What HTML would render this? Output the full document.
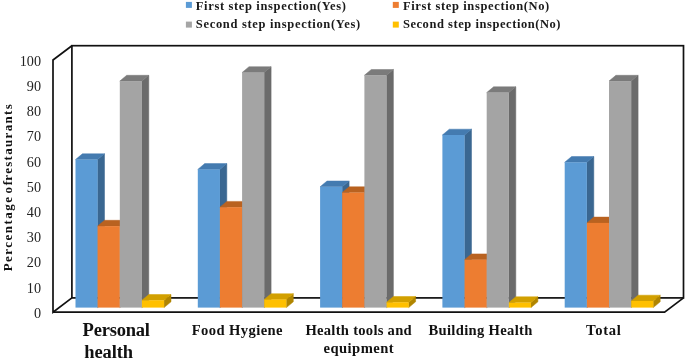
<!DOCTYPE html>
<html><head><meta charset="utf-8"><title>chart</title>
<style>html,body{margin:0;padding:0;background:#fff;overflow:hidden}body{width:685px;height:358px}</style>
</head><body>
<svg width="685" height="358" viewBox="0 0 685 358" style="display:block;filter:blur(0.35px)">
<rect width="100%" height="100%" fill="#fff"/>
<g fill="none" stroke="#111" stroke-width="1.7" stroke-linejoin="miter">
<rect x="71.9" y="45.7" width="611.6" height="252.2"/>
<path d="M71.9 45.7L53.0 60.0L53.0 312.2L71.9 297.9"/>
<path d="M53.0 312.2L664.6 312.2L683.5 297.9"/>
</g>
<path d="M97.6 159.6L104.5 153.8L104.5 301.8L97.6 307.6Z" fill="#3A6791" stroke="#3A6791" stroke-width="0.5"/>
<path d="M75.5 159.6L82.4 153.8L104.5 153.8L97.6 159.6Z" fill="#447BB0" stroke="#447BB0" stroke-width="0.5"/>
<rect x="75.5" y="159.6" width="22.15" height="148.0" fill="#5B9BD5"/>
<path d="M119.8 226.1L126.7 220.3L126.7 301.8L119.8 307.6Z" fill="#A85620" stroke="#A85620" stroke-width="0.5"/>
<path d="M97.6 226.1L104.5 220.3L126.7 220.3L119.8 226.1Z" fill="#B96220" stroke="#B96220" stroke-width="0.5"/>
<rect x="97.6" y="226.1" width="22.15" height="81.5" fill="#ED7D31"/>
<path d="M141.9 81.1L148.8 75.3L148.8 301.8L141.9 307.6Z" fill="#6B6B6B" stroke="#6B6B6B" stroke-width="0.5"/>
<path d="M119.8 81.1L126.7 75.3L148.8 75.3L141.9 81.1Z" fill="#7B7B7B" stroke="#7B7B7B" stroke-width="0.5"/>
<rect x="119.8" y="81.1" width="22.15" height="226.5" fill="#A4A4A4"/>
<path d="M164.1 300.3L171.0 294.5L171.0 301.8L164.1 307.6Z" fill="#B08500" stroke="#B08500" stroke-width="0.5"/>
<path d="M141.9 300.3L148.8 294.5L171.0 294.5L164.1 300.3Z" fill="#D2A000" stroke="#D2A000" stroke-width="0.5"/>
<rect x="141.9" y="300.3" width="22.15" height="7.3" fill="#FFC000"/>
<path d="M219.9 169.4L226.8 163.6L226.8 301.8L219.9 307.6Z" fill="#3A6791" stroke="#3A6791" stroke-width="0.5"/>
<path d="M197.8 169.4L204.7 163.6L226.8 163.6L219.9 169.4Z" fill="#447BB0" stroke="#447BB0" stroke-width="0.5"/>
<rect x="197.8" y="169.4" width="22.15" height="138.2" fill="#5B9BD5"/>
<path d="M242.1 207.2L249.0 201.4L249.0 301.8L242.1 307.6Z" fill="#A85620" stroke="#A85620" stroke-width="0.5"/>
<path d="M219.9 207.2L226.8 201.4L249.0 201.4L242.1 207.2Z" fill="#B96220" stroke="#B96220" stroke-width="0.5"/>
<rect x="219.9" y="207.2" width="22.15" height="100.4" fill="#ED7D31"/>
<path d="M264.2 72.5L271.1 66.7L271.1 301.8L264.2 307.6Z" fill="#6B6B6B" stroke="#6B6B6B" stroke-width="0.5"/>
<path d="M242.1 72.5L249.0 66.7L271.1 66.7L264.2 72.5Z" fill="#7B7B7B" stroke="#7B7B7B" stroke-width="0.5"/>
<rect x="242.1" y="72.5" width="22.15" height="235.1" fill="#A4A4A4"/>
<path d="M286.4 299.5L293.3 293.7L293.3 301.8L286.4 307.6Z" fill="#B08500" stroke="#B08500" stroke-width="0.5"/>
<path d="M264.2 299.5L271.1 293.7L293.3 293.7L286.4 299.5Z" fill="#D2A000" stroke="#D2A000" stroke-width="0.5"/>
<rect x="264.2" y="299.5" width="22.15" height="8.1" fill="#FFC000"/>
<path d="M342.2 186.8L349.1 181.0L349.1 301.8L342.2 307.6Z" fill="#3A6791" stroke="#3A6791" stroke-width="0.5"/>
<path d="M320.1 186.8L327.0 181.0L349.1 181.0L342.2 186.8Z" fill="#447BB0" stroke="#447BB0" stroke-width="0.5"/>
<rect x="320.1" y="186.8" width="22.15" height="120.8" fill="#5B9BD5"/>
<path d="M364.4 192.6L371.3 186.8L371.3 301.8L364.4 307.6Z" fill="#A85620" stroke="#A85620" stroke-width="0.5"/>
<path d="M342.2 192.6L349.1 186.8L371.3 186.8L364.4 192.6Z" fill="#B96220" stroke="#B96220" stroke-width="0.5"/>
<rect x="342.2" y="192.6" width="22.15" height="115.0" fill="#ED7D31"/>
<path d="M386.6 75.3L393.4 69.5L393.4 301.8L386.6 307.6Z" fill="#6B6B6B" stroke="#6B6B6B" stroke-width="0.5"/>
<path d="M364.4 75.3L371.3 69.5L393.4 69.5L386.6 75.3Z" fill="#7B7B7B" stroke="#7B7B7B" stroke-width="0.5"/>
<rect x="364.4" y="75.3" width="22.15" height="232.3" fill="#A4A4A4"/>
<path d="M408.7 302.3L415.6 296.5L415.6 301.8L408.7 307.6Z" fill="#B08500" stroke="#B08500" stroke-width="0.5"/>
<path d="M386.6 302.3L393.4 296.5L415.6 296.5L408.7 302.3Z" fill="#D2A000" stroke="#D2A000" stroke-width="0.5"/>
<rect x="386.6" y="302.3" width="22.15" height="5.3" fill="#FFC000"/>
<path d="M464.6 135.0L471.5 129.2L471.5 301.8L464.6 307.6Z" fill="#3A6791" stroke="#3A6791" stroke-width="0.5"/>
<path d="M442.4 135.0L449.3 129.2L471.5 129.2L464.6 135.0Z" fill="#447BB0" stroke="#447BB0" stroke-width="0.5"/>
<rect x="442.4" y="135.0" width="22.15" height="172.6" fill="#5B9BD5"/>
<path d="M486.7 259.7L493.6 253.9L493.6 301.8L486.7 307.6Z" fill="#A85620" stroke="#A85620" stroke-width="0.5"/>
<path d="M464.6 259.7L471.5 253.9L493.6 253.9L486.7 259.7Z" fill="#B96220" stroke="#B96220" stroke-width="0.5"/>
<rect x="464.6" y="259.7" width="22.15" height="47.9" fill="#ED7D31"/>
<path d="M508.9 92.6L515.8 86.8L515.8 301.8L508.9 307.6Z" fill="#6B6B6B" stroke="#6B6B6B" stroke-width="0.5"/>
<path d="M486.7 92.6L493.6 86.8L515.8 86.8L508.9 92.6Z" fill="#7B7B7B" stroke="#7B7B7B" stroke-width="0.5"/>
<rect x="486.7" y="92.6" width="22.15" height="215.0" fill="#A4A4A4"/>
<path d="M531.0 302.6L537.9 296.8L537.9 301.8L531.0 307.6Z" fill="#B08500" stroke="#B08500" stroke-width="0.5"/>
<path d="M508.9 302.6L515.8 296.8L537.9 296.8L531.0 302.6Z" fill="#D2A000" stroke="#D2A000" stroke-width="0.5"/>
<rect x="508.9" y="302.6" width="22.15" height="5.0" fill="#FFC000"/>
<path d="M586.9 162.3L593.8 156.5L593.8 301.8L586.9 307.6Z" fill="#3A6791" stroke="#3A6791" stroke-width="0.5"/>
<path d="M564.7 162.3L571.6 156.5L593.8 156.5L586.9 162.3Z" fill="#447BB0" stroke="#447BB0" stroke-width="0.5"/>
<rect x="564.7" y="162.3" width="22.15" height="145.3" fill="#5B9BD5"/>
<path d="M609.0 222.9L615.9 217.1L615.9 301.8L609.0 307.6Z" fill="#A85620" stroke="#A85620" stroke-width="0.5"/>
<path d="M586.9 222.9L593.8 217.1L615.9 217.1L609.0 222.9Z" fill="#B96220" stroke="#B96220" stroke-width="0.5"/>
<rect x="586.9" y="222.9" width="22.15" height="84.7" fill="#ED7D31"/>
<path d="M631.2 81.1L638.1 75.3L638.1 301.8L631.2 307.6Z" fill="#6B6B6B" stroke="#6B6B6B" stroke-width="0.5"/>
<path d="M609.0 81.1L615.9 75.3L638.1 75.3L631.2 81.1Z" fill="#7B7B7B" stroke="#7B7B7B" stroke-width="0.5"/>
<rect x="609.0" y="81.1" width="22.15" height="226.5" fill="#A4A4A4"/>
<path d="M653.3 301.0L660.2 295.2L660.2 301.8L653.3 307.6Z" fill="#B08500" stroke="#B08500" stroke-width="0.5"/>
<path d="M631.2 301.0L638.1 295.2L660.2 295.2L653.3 301.0Z" fill="#D2A000" stroke="#D2A000" stroke-width="0.5"/>
<rect x="631.2" y="301.0" width="22.15" height="6.6" fill="#FFC000"/>
<g font-family="'Liberation Serif', serif" font-size="14.2" fill="#222" text-anchor="end">
<text x="41" y="317.8">0</text>
<text x="41" y="292.6">10</text>
<text x="41" y="267.4">20</text>
<text x="41" y="242.1">30</text>
<text x="41" y="216.9">40</text>
<text x="41" y="191.7">50</text>
<text x="41" y="166.5">60</text>
<text x="41" y="141.3">70</text>
<text x="41" y="116.0">80</text>
<text x="41" y="90.8">90</text>
<text x="41" y="65.6">100</text>
</g>
<text transform="translate(11.8,271.3) rotate(-90)" font-family="'Liberation Serif', serif" font-weight="bold" font-size="13" fill="#111"><tspan x="0" textLength="74.3" lengthAdjust="spacing">Percentage</tspan> <tspan x="77.8" textLength="12.5" lengthAdjust="spacing">of</tspan> <tspan x="90.6" textLength="76.4" lengthAdjust="spacing">restaurants</tspan></text>
<g font-family="'Liberation Serif', serif" font-weight="bold" font-size="12.5" fill="#1a1a1a">
<rect x="185.9" y="1.9" width="6" height="6" fill="#5B9BD5"/>
<text x="195.8" y="9.5" textLength="150.2" lengthAdjust="spacing">First step inspection(Yes)</text>
<rect x="185.9" y="21.6" width="6" height="6" fill="#A5A5A5"/>
<text x="195.8" y="28.1" textLength="164.3" lengthAdjust="spacing">Second step inspection(Yes)</text>
<rect x="392.8" y="1.9" width="6" height="6" fill="#ED7D31"/>
<text x="402.9" y="9.5" textLength="146.3" lengthAdjust="spacing">First step inspection(No)</text>
<rect x="392.8" y="21.6" width="6" height="6" fill="#FFC000"/>
<text x="402.9" y="28.1" textLength="157.6" lengthAdjust="spacing">Second step inspection(No)</text>
</g>
<g font-family="'Liberation Serif', serif" font-weight="bold" fill="#111">
<text x="82.6" y="336.4" font-size="18.5" textLength="67.4" lengthAdjust="spacing">Personal</text>
<text x="84.3" y="357.7" font-size="18.5" textLength="48.7" lengthAdjust="spacing">health</text>
<text x="191.8" y="335.1" font-size="14.6" textLength="90.7" lengthAdjust="spacing">Food Hygiene</text>
<text x="305.4" y="335.1" font-size="14.6" textLength="106.3" lengthAdjust="spacing">Health tools and</text>
<text x="323.5" y="352.7" font-size="14.6" textLength="70.2" lengthAdjust="spacing">equipment</text>
<text x="428.5" y="335.1" font-size="14.6" textLength="103.9" lengthAdjust="spacing">Building Health</text>
<text x="586.1" y="335.1" font-size="14.6" textLength="34.6" lengthAdjust="spacing">Total</text>
</g>
</svg>
</body></html>
